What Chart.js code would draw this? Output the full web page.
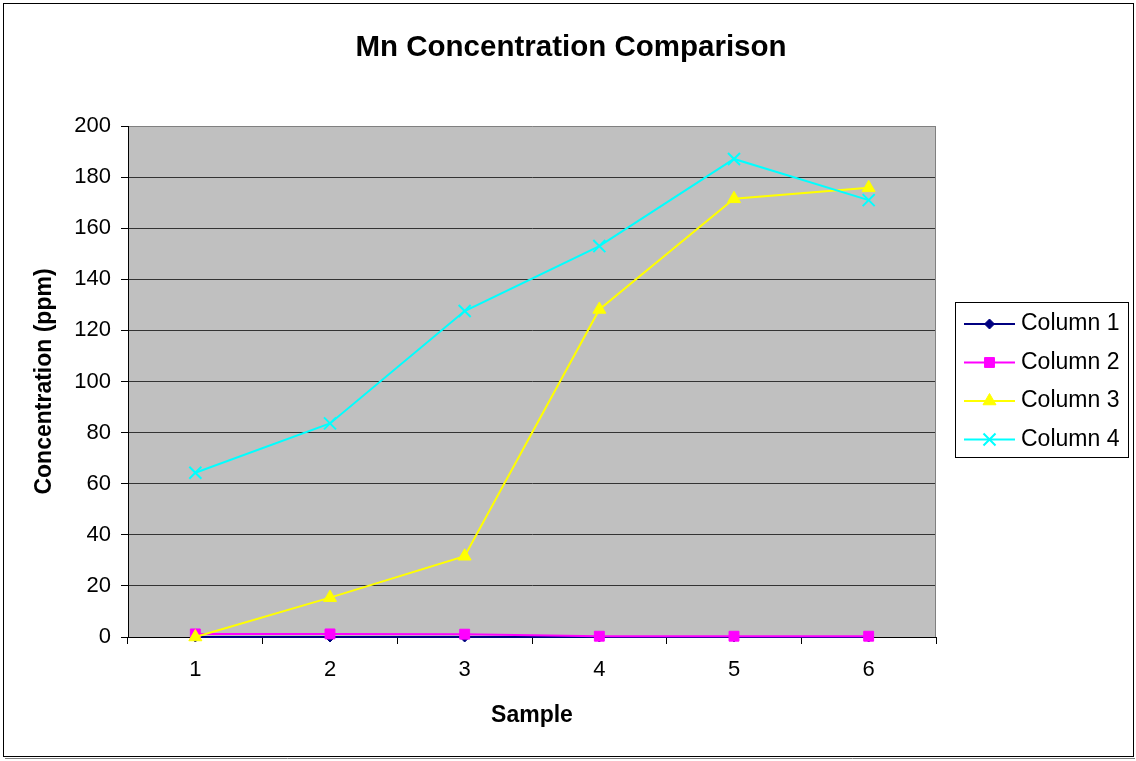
<!DOCTYPE html>
<html>
<head>
<meta charset="utf-8">
<title>Mn Concentration Comparison</title>
<script src="https://cdn.jsdelivr.net/npm/chart.js@4/dist/chart.umd.min.js"></script>
<style>
  html, body { margin: 0; padding: 0; background: #ffffff; }
  #wrap { width: 1136px; height: 761px; position: relative; }
</style>
</head>
<body>
<div id="wrap"><canvas id="chart" width="1136" height="761"></canvas></div>
<script>
// Sample categories and Mn concentrations (ppm) per column
const samples = ['1', '2', '3', '4', '5', '6'];
const column1 = [0, 0, 0, 0, 0, 0];
const column2 = [1.2, 1.2, 1.1, 0.3, 0.3, 0.3];
const column3 = [0, 15.4, 31.6, 128.2, 171.5, 175.8];
const column4 = [64.3, 83.6, 127.6, 153.0, 187.1, 171.0];
const seriesNames = ['Column 1', 'Column 2', 'Column 3', 'Column 4'];
const yMin = 0, yMax = 200, yStep = 20;

const chartTitle = 'Mn Concentration Comparison';
const xTitle = 'Sample';
const yTitle = 'Concentration (ppm)';

const FONT = "'Liberation Sans', Arial, Helvetica, sans-serif";

function series(label, data, color, style, radius, order) {
  return {
    label, data,
    borderColor: color, backgroundColor: color,
    pointBackgroundColor: color, pointBorderColor: color,
    borderWidth: 2, tension: 0,
    pointStyle: style, pointRadius: radius, pointHoverRadius: radius,
    pointBorderWidth: style === 'crossRot' ? 2 : 1,
    order, clip: false
  };
}

const datasets = [
  series(seriesNames[0], column1, '#000080', 'rectRot', 5, 4),
  series(seriesNames[1], column2, '#FF00FF', 'rect', 7, 3),
  series(seriesNames[2], column3, '#FFFF00', 'triangle', 7.5, 2),
  series(seriesNames[3], column4, '#00FFFF', 'crossRot', 8.5, 1)
];

// small marker painter for the legend swatches
function marker(ctx, style, x, y, r) {
  ctx.beginPath();
  if (style === 'rectRot') {
    ctx.moveTo(x, y - r); ctx.lineTo(x + r, y); ctx.lineTo(x, y + r); ctx.lineTo(x - r, y); ctx.closePath();
    ctx.fill(); ctx.stroke();
  } else if (style === 'rect') {
    const s = r * Math.SQRT1_2;
    ctx.rect(x - s, y - s, 2 * s, 2 * s); ctx.fill(); ctx.stroke();
  } else if (style === 'triangle') {
    for (let i = 0; i < 3; i++) {
      const a = -Math.PI / 2 + i * 2 * Math.PI / 3;
      const px = x + Math.cos(a) * r, py = y + Math.sin(a) * r;
      if (i === 0) ctx.moveTo(px, py); else ctx.lineTo(px, py);
    }
    ctx.closePath(); ctx.fill(); ctx.stroke();
  } else if (style === 'crossRot') {
    const d = r * Math.SQRT1_2;
    ctx.moveTo(x - d, y - d); ctx.lineTo(x + d, y + d);
    ctx.moveTo(x + d, y - d); ctx.lineTo(x - d, y + d);
    ctx.stroke();
  }
}

const decorations = {
  id: 'decorations',
  beforeDraw(chart) {
    const { ctx, chartArea: a } = chart;
    ctx.save();
    ctx.fillStyle = '#ffffff';
    ctx.fillRect(0, 0, chart.width, chart.height);
    ctx.fillStyle = '#C0C0C0';
    ctx.fillRect(a.left, a.top, a.right - a.left, a.bottom - a.top);
    ctx.restore();
  },
  beforeDatasetsDraw(chart) {
    const { ctx, chartArea: a } = chart;
    ctx.save();
    ctx.strokeStyle = '#808080';
    ctx.lineWidth = 1;
    ctx.beginPath();
    ctx.moveTo(Math.round(a.right) - 0.5, a.top);
    ctx.lineTo(Math.round(a.right) - 0.5, a.bottom);
    ctx.stroke();
    ctx.restore();
  },
  afterDraw(chart) {
    const { ctx } = chart;
    ctx.save();
    // outer frame
    ctx.strokeStyle = '#000000';
    ctx.lineWidth = 1;
    ctx.strokeRect(3.5, 3.5, 1130, 753);
    ctx.strokeStyle = '#808080';
    ctx.beginPath(); ctx.moveTo(5, 758.5); ctx.lineTo(1135, 758.5); ctx.stroke();

    // chart title
    ctx.fillStyle = '#000000';
    ctx.font = 'bold 29.5px ' + FONT;
    ctx.textAlign = 'center';
    ctx.textBaseline = 'alphabetic';
    ctx.fillText(chartTitle, 571, 56);

    // legend
    ctx.strokeStyle = '#000000';
    ctx.lineWidth = 1;
    ctx.strokeRect(955.5, 302.5, 173, 155);
    const rows = [324, 362.5, 401, 439.5];
    ctx.font = '23px ' + FONT;
    ctx.textAlign = 'left';
    ctx.textBaseline = 'middle';
    chart.data.datasets.forEach((ds, i) => {
      const y = rows[i];
      ctx.strokeStyle = ds.borderColor;
      ctx.lineWidth = 2;
      ctx.beginPath(); ctx.moveTo(964, y); ctx.lineTo(1015, y); ctx.stroke();
      ctx.fillStyle = ds.backgroundColor;
      ctx.lineWidth = ds.pointStyle === 'crossRot' ? 2 : 1;
      marker(ctx, ds.pointStyle, 989.5, y, ds.pointStyle === 'rectRot' ? 5 : ds.pointStyle === 'rect' ? 7 : ds.pointStyle === 'triangle' ? 7.5 : 8.5);
      ctx.fillStyle = '#000000';
      ctx.fillText(ds.label, 1021, y);
    });
    ctx.restore();
  }
};

new Chart(document.getElementById('chart'), {
  type: 'line',
  data: { labels: samples, datasets },
  options: {
    responsive: false,
    animation: false,
    events: [],
    layout: { padding: { top: 126, right: 200, bottom: 0, left: 0 } },
    plugins: {
      legend: { display: false },
      title: { display: false },
      tooltip: { enabled: false }
    },
    scales: {
      x: {
        type: 'category',
        offset: true,
        grid: { offset: true, drawOnChartArea: false, drawTicks: true, tickLength: 7, tickColor: '#000000', lineWidth: 1 },
        border: { display: true, color: '#000000', width: 1 },
        ticks: { color: '#000000', font: { family: FONT, size: 22 }, padding: 13, maxRotation: 0, autoSkip: false },
        title: { display: true, text: xTitle, color: '#000000', font: { family: FONT, size: 23, weight: 'bold' }, padding: { top: 0, bottom: 32 } },
        afterFit(scale) { scale.height = 124; }
      },
      y: {
        min: yMin, max: yMax,
        grid: {
          color: (c) => (c.tick && c.tick.value === yMax ? '#808080' : '#333333'),
          drawTicks: true, tickLength: 7, tickColor: '#000000', lineWidth: 1
        },
        border: { display: true, color: '#000000', width: 1 },
        ticks: { stepSize: yStep, color: '#000000', font: { family: FONT, size: 22 }, padding: 10 },
        title: { display: true, text: yTitle, color: '#000000', font: { family: FONT, size: 23, weight: 'bold' }, padding: { top: 31, bottom: 0 } },
        afterFit(scale) { scale.width = 128; }
      }
    }
  },
  plugins: [decorations]
});
</script>
</body>
</html>
